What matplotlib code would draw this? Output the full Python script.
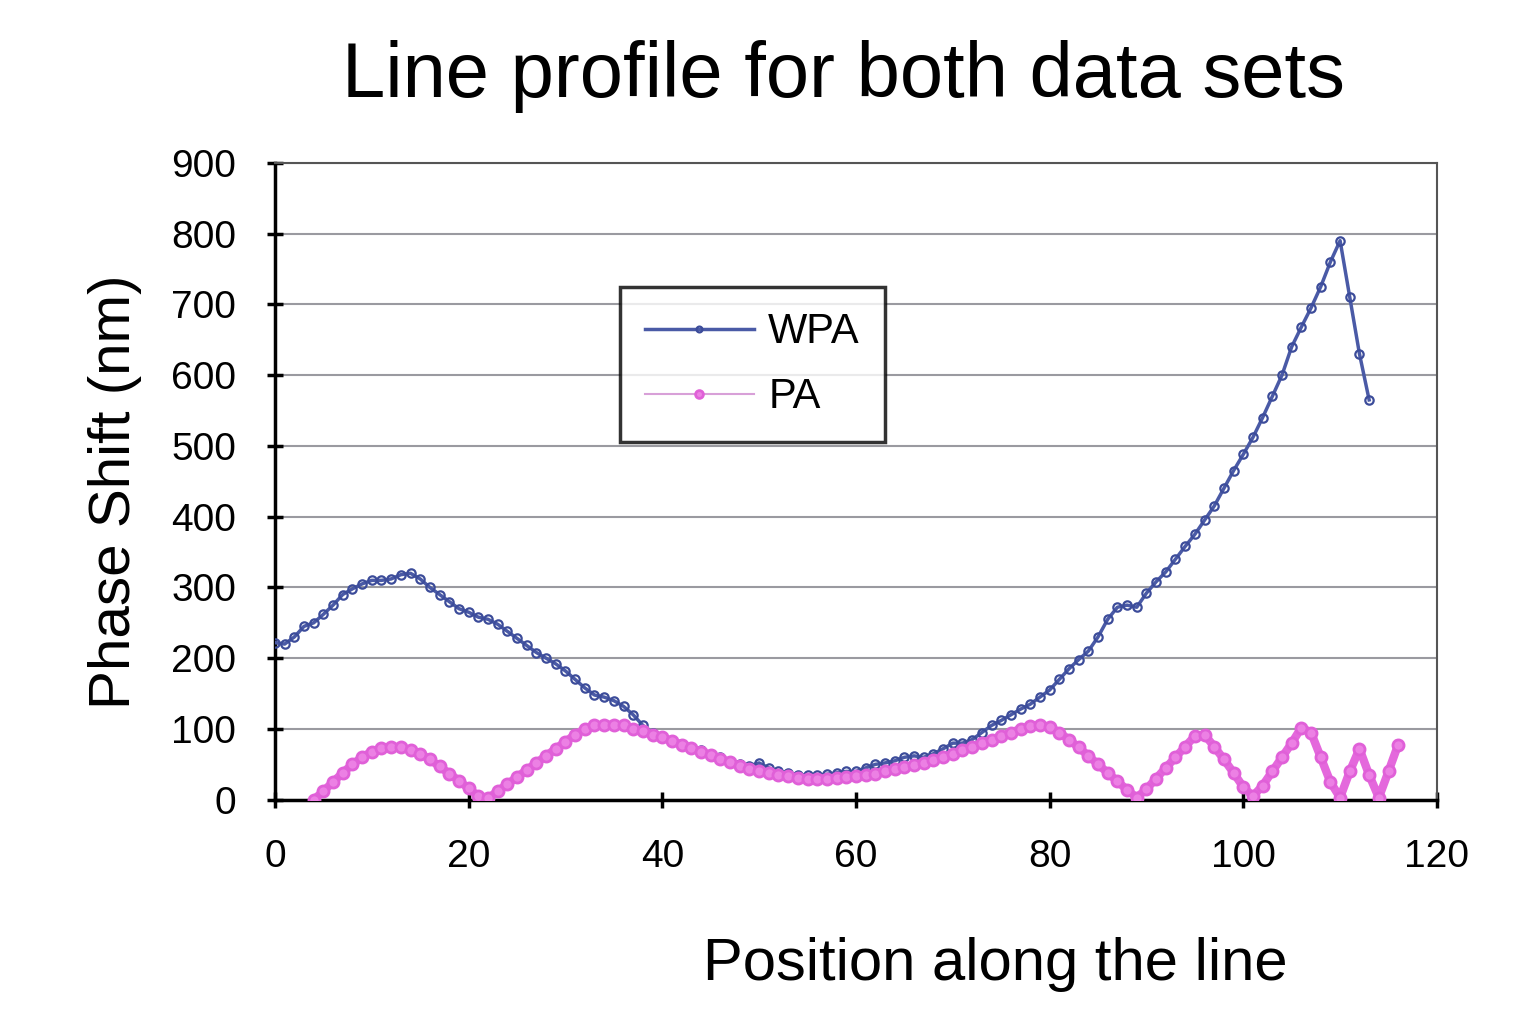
import matplotlib.pyplot as plt

plt.rcParams['font.family'] = ['Liberation Sans', 'DejaVu Sans']

# WPA line profile, one point per position 0..113
wpa_x = list(range(0, 114))
wpa_y = [222, 220, 230, 245, 250, 262, 275, 290, 298, 305,
         310, 310, 312, 318, 320, 312, 300, 290, 280, 270,
         265, 258, 255, 248, 238, 228, 218, 208, 200, 192,
         182, 170, 158, 148, 145, 140, 132, 120, 105, 95,
         90, 85, 78, 72, 70, 65, 60, 55, 50, 48,
         52, 45, 40, 38, 35, 35, 35, 36, 38, 40,
         40, 45, 50, 52, 55, 60, 62, 60, 65, 72,
         80, 80, 85, 95, 105, 112, 120, 128, 135, 145,
         155, 170, 185, 198, 210, 230, 255, 272, 275, 272,
         292, 308, 322, 340, 358, 375, 395, 415, 440, 465,
         488, 512, 540, 570, 600, 640, 668, 695, 725, 760,
         790, 710, 630, 565]

# PA line profile, positions 4..116
pa_x = list(range(4, 117))
pa_y = [0, 12, 25, 38, 50, 60, 68, 73, 75, 74,
        70, 65, 57, 47, 37, 27, 16, 5, 2, 12,
        22, 32, 42, 52, 62, 72, 82, 92, 100, 105,
        106, 106, 105, 100, 97, 92, 88, 83, 78, 73,
        68, 63, 58, 53, 48, 44, 41, 38, 35, 33,
        31, 30, 30, 30, 31, 32, 33, 35, 37, 40,
        43, 46, 49, 52, 56, 60, 65, 70, 75, 80,
        85, 90, 95, 100, 104, 105, 103, 95, 85, 74,
        62, 50, 38, 26, 14, 3, 15, 30, 45, 60,
        75, 90, 92, 75, 57, 38, 18, 5, 20, 40,
        60, 80, 102, 95, 60, 25, 3, 40, 72, 35,
        3, 40, 78]

fig = plt.figure(figsize=(15.36, 10.24), dpi=100)
ax = fig.add_axes([0.179, 0.219, 0.7565, 0.622])

ax.plot(wpa_x, wpa_y, color='#4a5aa6', lw=2.5, marker='o', ms=6,
        mfc='none', mec='#3c4c9a', mew=1.6, label='WPA', zorder=3)
ax.plot(pa_x, pa_y, color='#e468dc', lw=6, marker='o', ms=8,
        mfc='#ec80e4', mec='#e060d8', mew=2, label='PA', zorder=4)

ax.set_xlim(0, 120)
ax.set_ylim(0, 900)
ax.set_xticks(range(0, 121, 20))
ax.set_yticks(range(0, 901, 100))
ax.yaxis.grid(True, color='#9a9aa0', lw=1.5)
ax.set_axisbelow(True)
ax.tick_params(labelsize=28, direction='inout', length=12, width=2.5)
ax.tick_params(axis='y', pad=22)
ax.tick_params(axis='x', pad=22)
for s in ax.spines.values():
    s.set_color('#555555')
    s.set_linewidth(1.5)
ax.spines['left'].set_color('black')
ax.spines['left'].set_linewidth(2.5)
ax.spines['bottom'].set_color('black')
ax.spines['bottom'].set_linewidth(2.5)

fig.text(0.549, 0.925, 'Line profile for both data sets', fontsize=56,
         ha='center', va='center')
fig.text(0.648, 0.058, 'Position along the line', fontsize=43,
         ha='center', va='center')
fig.text(0.075, 0.52, 'Phase Shift (nm)', fontsize=42, rotation=90,
         ha='center', va='center')

leg = ax.legend(loc='center', bbox_to_anchor=(0.411, 0.683), fontsize=30,
                frameon=True, fancybox=False, edgecolor='black',
                handlelength=2.6, handletextpad=0.35, borderpad=0.6,
                labelspacing=0.6, markerscale=0.7)
leg.get_frame().set_linewidth(2.5)
leg.get_lines()[1].set_linewidth(1.5)
leg.get_lines()[1].set_color('#d8a0d8')

plt.savefig('out.png', dpi=100)
